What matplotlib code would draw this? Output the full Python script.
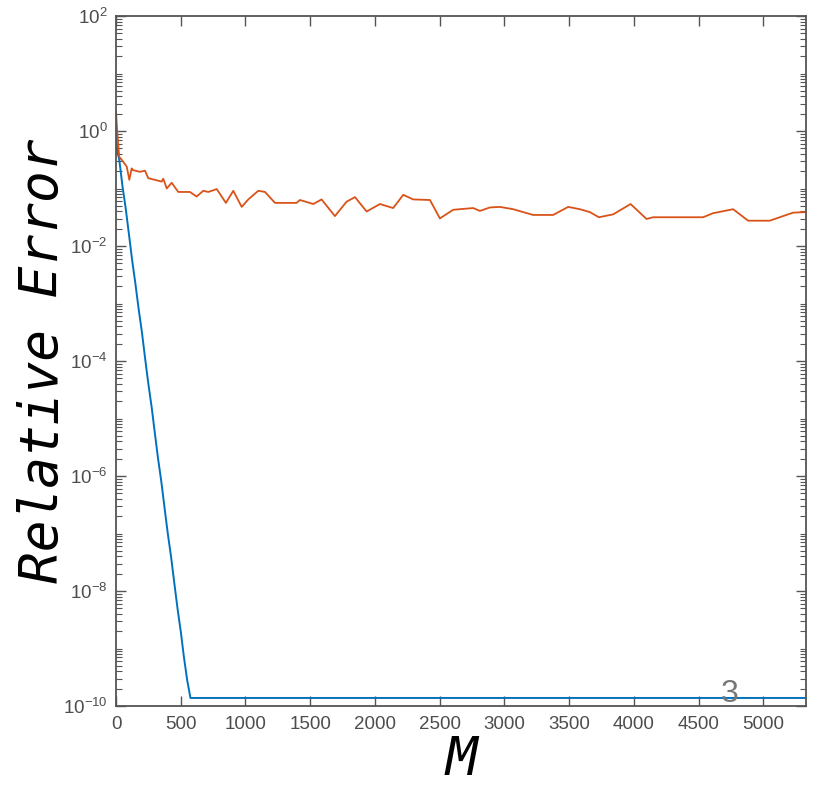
import numpy as np
import matplotlib
matplotlib.use("Agg")
import matplotlib.pyplot as plt
from matplotlib.ticker import LogLocator, NullFormatter

# blue curve: fast decay then floor
m_blue = [0, 10, 25, 50, 75, 100, 125, 150, 175, 200, 225, 250, 275, 300,
          325, 350, 375, 400, 425, 450, 475, 500, 525, 550, 575, 5330]
err_blue = [0.9, 0.45, 0.32, 0.11, 4.5e-2, 1.6e-2, 5.6e-3, 2.2e-3, 8e-4, 3.2e-4,
            1.1e-4, 4e-5, 1.6e-5, 5.6e-6, 2e-6, 8e-7, 2.8e-7, 1e-7, 4e-8,
            1.4e-8, 5e-9, 2e-9, 7e-10, 2.8e-10, 1.38e-10, 1.38e-10]

# red curve: noisy plateau around a few 1e-2
m_red = [0, 10, 25, 44, 83, 103, 121, 131, 185, 224, 249, 301, 353, 365, 392,
         430, 481, 571, 623, 674, 713, 778, 849, 906, 971, 1022, 1099, 1151,
         1228, 1395, 1421, 1524, 1588, 1691, 1781, 1846, 1936, 2039, 2141,
         2219, 2296, 2425, 2502, 2605, 2759, 2811, 2888, 2965, 3068, 3145,
         3222, 3377, 3493, 3583, 3660, 3730, 3840, 3975, 4098, 4149, 4535,
         4612, 4767, 4883, 5050, 5153, 5230, 5328]
log_red = [0.34, -0.03, -0.45, -0.5, -0.62, -0.85, -0.65, -0.68, -0.71, -0.69,
           -0.82, -0.85, -0.88, -0.83, -1.0, -0.9, -1.06, -1.06, -1.14, -1.04,
           -1.06, -1.01, -1.25, -1.04, -1.32, -1.19, -1.04, -1.06, -1.25,
           -1.25, -1.2, -1.27, -1.19, -1.48, -1.23, -1.15, -1.40, -1.27, -1.34,
           -1.11, -1.19, -1.2, -1.52, -1.37, -1.34, -1.39, -1.33, -1.32, -1.36,
           -1.41, -1.46, -1.46, -1.32, -1.36, -1.41, -1.50, -1.45, -1.27,
           -1.53, -1.50, -1.50, -1.43, -1.36, -1.56, -1.56, -1.48, -1.42, -1.41]
err_red = 10.0 ** np.array(log_red)

xticks = [0, 500, 1000, 1500, 2000, 2500, 3000, 3500, 4000, 4500, 5000]
yticks = [1e-10, 1e-8, 1e-6, 1e-4, 1e-2, 1e0, 1e2]
ytick_labels = ['$10^{-10}$', '$10^{-8}$', '$10^{-6}$', '$10^{-4}$',
                '$10^{-2}$', '$10^{0}$', '$10^{2}$']

plt.rcParams['font.family'] = 'Liberation Sans'
plt.rcParams['mathtext.default'] = 'regular'

fig = plt.figure(figsize=(8.23, 7.91), dpi=100)
ax = fig.add_axes([116/823, 85/791, 690/823, 690/791])

ax.plot(m_blue, err_blue, color='#0072BD', lw=1.4)
ax.plot(m_red, err_red, color='#D95319', lw=1.3)

ax.set_yscale('log')
ax.set_xlim(0, 5330)
ax.set_ylim(1e-10, 1e2)
ax.set_xticks(xticks)
ax.set_yticks(yticks)
ax.set_yticklabels(ytick_labels)
ax.yaxis.set_minor_locator(LogLocator(base=10, subs=np.arange(1, 10), numticks=50))
ax.yaxis.set_minor_formatter(NullFormatter())

gray = '#555555'
for s in ax.spines.values():
    s.set_color(gray)
    s.set_linewidth(1.3)
ax.tick_params(which='both', direction='in', top=True, right=True,
               colors=gray, labelcolor='#4d4d4d', labelsize=13.5)
ax.tick_params(which='major', length=7, width=1.0)
ax.tick_params(which='minor', length=4, width=0.8)
ax.tick_params(axis='x', pad=7)
ax.tick_params(axis='y', pad=6)

ax.set_ylabel('Relative Error', family='DejaVu Sans Mono', style='italic',
              fontsize=38, labelpad=-4)
ax.set_xlabel('M', family='DejaVu Sans Mono', style='italic', fontsize=38,
              labelpad=1)

ax.text(0.89, 0.018, '3', transform=ax.transAxes, ha='center', va='center',
        fontsize=23, color='#777777')

fig.savefig('out.png', dpi=100)
